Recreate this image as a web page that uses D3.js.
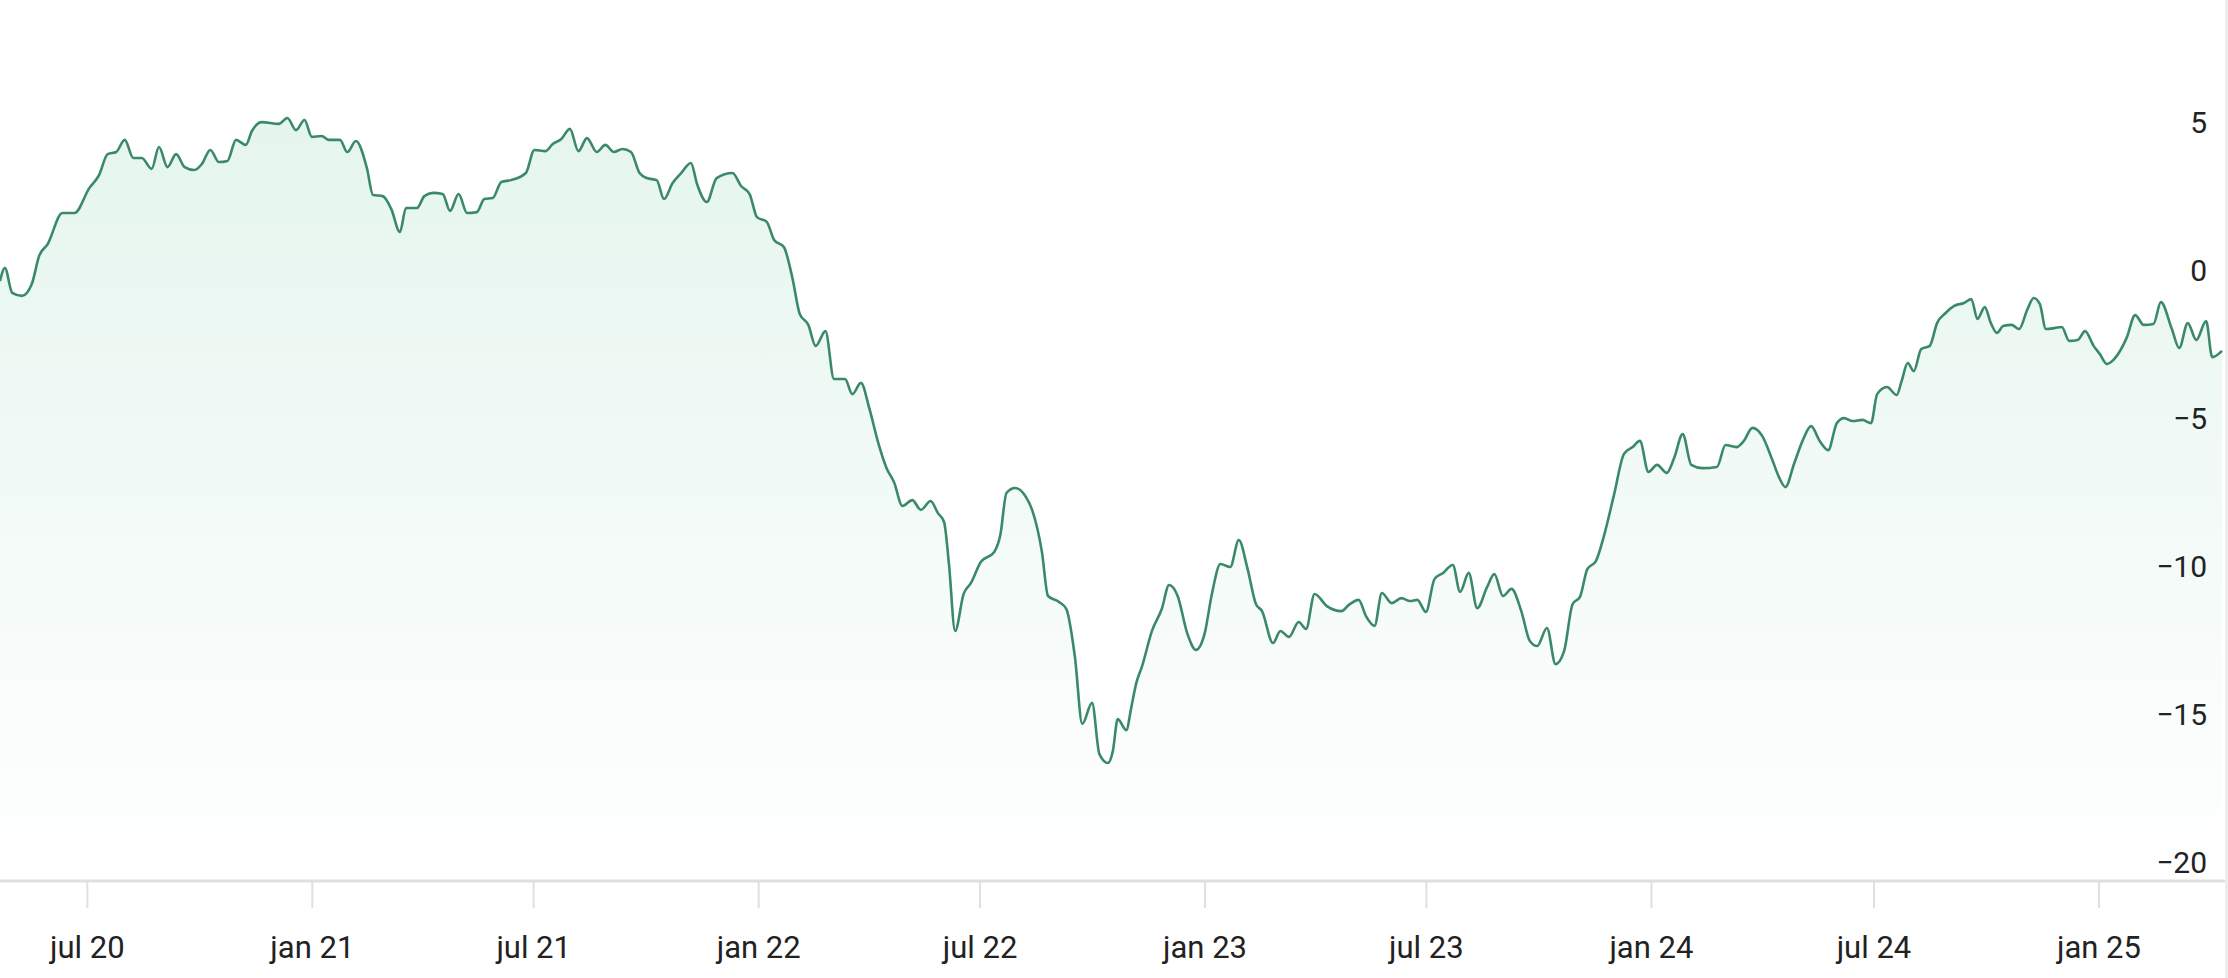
<!DOCTYPE html>
<html>
<head>
<meta charset="utf-8">
<script src="https://cdn.jsdelivr.net/npm/d3@7"></script>
<style>
  body { margin: 0; background: #fff; }
  svg { display: block; font-family: Roboto, "Noto Sans", sans-serif; }
</style>
</head>
<body>
<div id="chart"></div>
<script>
// data
var dates = [
  "2020-04-21","2020-04-25","2020-05-01","2020-05-09","2020-05-17","2020-05-23","2020-05-30","2020-06-11","2020-06-21","2020-07-03",
  "2020-07-11","2020-07-18","2020-07-25","2020-08-01","2020-08-08","2020-08-15","2020-08-23","2020-08-29","2020-09-05","2020-09-12",
  "2020-09-19","2020-09-27","2020-10-03","2020-10-10","2020-10-17","2020-10-24","2020-10-31","2020-11-08","2020-11-13","2020-11-21",
  "2020-12-05","2020-12-12","2020-12-19","2020-12-26","2021-01-01","2021-01-09","2021-01-15","2021-01-24","2021-01-30","2021-02-06",
  "2021-02-15","2021-02-20","2021-02-28","2021-03-07","2021-03-14","2021-03-19","2021-03-28","2021-04-03","2021-04-10","2021-04-18",
  "2021-04-24","2021-05-01","2021-05-08","2021-05-16","2021-05-22","2021-05-29","2021-06-05","2021-06-13","2021-06-25","2021-07-02",
  "2021-07-11","2021-07-17","2021-07-24","2021-07-31","2021-08-07","2021-08-14","2021-08-22","2021-08-29","2021-09-05","2021-09-12",
  "2021-09-19","2021-09-26","2021-10-02","2021-10-10","2021-10-16","2021-10-23","2021-10-30","2021-11-07","2021-11-12","2021-11-20",
  "2021-11-28","2021-12-11","2021-12-18","2021-12-25","2021-12-31","2022-01-08","2022-01-14","2022-01-22","2022-01-29","2022-02-04",
  "2022-02-11","2022-02-17","2022-02-25","2022-03-04","2022-03-13","2022-03-19","2022-03-26","2022-04-02","2022-04-09","2022-04-16",
  "2022-04-22","2022-04-29","2022-05-07","2022-05-14","2022-05-22","2022-05-28","2022-06-02","2022-06-06","2022-06-11","2022-06-18",
  "2022-06-24","2022-07-02","2022-07-13","2022-07-18","2022-07-23","2022-07-30","2022-08-08","2022-08-13","2022-08-21","2022-08-26",
  "2022-09-04","2022-09-10","2022-09-17","2022-09-23","2022-10-01","2022-10-07","2022-10-14","2022-10-18","2022-10-22","2022-10-29",
  "2022-11-02","2022-11-06","2022-11-11","2022-11-19","2022-11-27","2022-12-03","2022-12-10","2022-12-18","2022-12-25","2023-01-01",
  "2023-01-07","2023-01-14","2023-01-22","2023-01-29","2023-02-05","2023-02-12","2023-02-17","2023-02-26","2023-03-04","2023-03-11",
  "2023-03-19","2023-03-25","2023-04-01","2023-04-11","2023-04-23","2023-04-29","2023-05-07","2023-05-13","2023-05-20","2023-05-26",
  "2023-06-03","2023-06-11","2023-06-18","2023-06-24","2023-07-01","2023-07-08","2023-07-15","2023-07-23","2023-07-29","2023-08-05",
  "2023-08-12","2023-08-20","2023-08-26","2023-09-02","2023-09-09","2023-09-17","2023-09-24","2023-09-30","2023-10-08","2023-10-15",
  "2023-10-22","2023-10-29","2023-11-04","2023-11-10","2023-11-17","2023-11-24","2023-12-02","2023-12-10","2023-12-17","2023-12-23",
  "2023-12-30","2024-01-06","2024-01-14","2024-01-20","2024-01-27","2024-02-03","2024-02-12","2024-02-24","2024-03-02","2024-03-11",
  "2024-03-17","2024-03-24","2024-04-01","2024-04-09","2024-04-15","2024-04-20","2024-04-27","2024-05-04","2024-05-11","2024-05-18",
  "2024-05-25","2024-06-01","2024-06-07","2024-06-14","2024-06-22","2024-06-29","2024-07-04","2024-07-12","2024-07-20","2024-07-24",
  "2024-07-29","2024-08-03","2024-08-09","2024-08-16","2024-08-22","2024-08-29","2024-09-05","2024-09-13","2024-09-19","2024-09-24",
  "2024-09-30","2024-10-05","2024-10-10","2024-10-15","2024-10-22","2024-10-28","2024-11-04","2024-11-09","2024-11-14","2024-11-19",
  "2024-11-26","2024-12-02","2024-12-08","2024-12-15","2024-12-21","2024-12-28","2025-01-02","2025-01-08","2025-01-14","2025-01-24",
  "2025-01-31","2025-02-07","2025-02-15","2025-02-21","2025-03-02","2025-03-08","2025-03-15","2025-03-22","2025-03-30","2025-04-04",
  "2025-04-12"
];
var values = [
  -0.34,0.10,-0.74,-0.84,-0.44,0.51,0.91,1.96,1.96,2.80,
  3.24,3.95,4.02,4.43,3.82,3.82,3.45,4.19,3.51,3.95,
  3.51,3.41,3.61,4.09,3.68,3.72,4.43,4.26,4.73,5.03,
  4.97,5.17,4.76,5.10,4.53,4.56,4.43,4.43,4.02,4.39,
  3.48,2.57,2.53,2.09,1.32,2.13,2.13,2.53,2.64,2.60,
  2.03,2.60,1.96,1.99,2.43,2.47,3.01,3.07,3.31,4.09,
  4.05,4.29,4.46,4.80,4.05,4.49,4.02,4.26,4.02,4.12,
  4.02,3.31,3.14,3.07,2.43,2.97,3.31,3.65,2.94,2.33,
  3.14,3.31,2.87,2.60,1.82,1.66,1.05,0.81,-0.24,-1.45,
  -1.82,-2.53,-2.03,-3.65,-3.65,-4.16,-3.78,-4.66,-5.78,-6.66,
  -7.13,-7.94,-7.74,-8.07,-7.77,-8.18,-8.48,-9.90,-12.16,-10.91,
  -10.54,-9.83,-9.49,-8.92,-7.50,-7.33,-7.64,-8.07,-9.49,-10.98,
  -11.18,-11.42,-13.04,-15.30,-14.59,-16.32,-16.62,-16.22,-15.14,-15.51,
  -14.76,-13.95,-13.34,-12.16,-11.42,-10.61,-10.98,-12.26,-12.80,-12.26,
  -10.91,-9.90,-10.00,-9.09,-10.03,-11.25,-11.49,-12.57,-12.16,-12.36,
  -11.86,-12.09,-10.91,-11.32,-11.49,-11.28,-11.11,-11.66,-11.99,-10.88,
  -11.22,-11.05,-11.15,-11.11,-11.52,-10.41,-10.20,-9.93,-10.84,-10.20,
  -11.39,-10.68,-10.24,-10.98,-10.74,-11.49,-12.50,-12.67,-12.06,-13.28,
  -12.84,-11.25,-11.01,-10.07,-9.80,-8.89,-7.53,-6.18,-5.95,-5.74,
  -6.79,-6.55,-6.82,-6.32,-5.51,-6.55,-6.66,-6.62,-5.88,-5.95,
  -5.74,-5.30,-5.57,-6.35,-6.99,-7.30,-6.52,-5.74,-5.24,-5.74,
  -6.05,-5.14,-4.97,-5.07,-5.03,-5.14,-4.16,-3.92,-4.19,-3.72,
  -3.11,-3.38,-2.64,-2.53,-1.76,-1.42,-1.18,-1.08,-0.95,-1.62,
  -1.22,-1.76,-2.09,-1.86,-1.82,-1.96,-1.28,-0.91,-1.11,-1.96,
  -1.93,-1.89,-2.36,-2.33,-2.03,-2.53,-2.80,-3.14,-2.97,-2.26,
  -1.49,-1.82,-1.79,-1.05,-1.96,-2.60,-1.76,-2.33,-1.69,-2.91,
  -2.70
];
var xTickDates = ["2020-07-01","2021-01-01","2021-07-01","2022-01-01","2022-07-01","2023-01-01","2023-07-01","2024-01-01","2024-07-01","2025-01-01"];
var xTickLabels = ["jul 20","jan 21","jul 21","jan 22","jul 22","jan 23","jul 23","jan 24","jul 24","jan 25"];
var yTicks = [5, 0, -5, -10, -15, -20];

var w = 2228, h = 978;
var axisY = 881;
var parse = d3.utcParse("%Y-%m-%d");

var points = dates.map(function(d, i) {
  return { date: parse(d), value: values[i] };
});

var x = d3.scaleUtc()
  .domain(d3.extent(points, function(d) { return d.date; }))
  .range([0, 2222]);

var y = d3.scaleLinear()
  .domain([-20, 5])
  .range([863, 123]);

var svg = d3.select("#chart")
  .append("svg")
  .attr("width", w)
  .attr("height", h);

// soft green fill fading to white
var grad = svg.append("defs").append("linearGradient")
  .attr("id", "fade")
  .attr("gradientUnits", "userSpaceOnUse")
  .attr("x1", 0).attr("x2", 0)
  .attr("y1", 110).attr("y2", axisY);
grad.append("stop").attr("offset", 0).attr("stop-color", "#e5f5ee");
grad.append("stop").attr("offset", 1).attr("stop-color", "#ffffff");

var area = d3.area()
  .x(function(d) { return x(d.date); })
  .y0(axisY)
  .y1(function(d) { return y(d.value); })
  .curve(d3.curveMonotoneX);

var line = d3.line()
  .x(function(d) { return x(d.date); })
  .y(function(d) { return y(d.value); })
  .curve(d3.curveMonotoneX);

svg.append("path")
  .datum(points)
  .attr("d", area)
  .attr("fill", "url(#fade)");

svg.append("path")
  .datum(points)
  .attr("d", line)
  .attr("fill", "none")
  .attr("stroke", "#3a8a68")
  .attr("stroke-width", 2.6)
  .attr("stroke-linejoin", "round");

// x axis
var xAxis = d3.axisBottom(x)
  .tickValues(xTickDates.map(parse))
  .tickFormat(function(d, i) { return xTickLabels[i]; })
  .tickSize(27)
  .tickSizeOuter(0);

var gx = svg.append("g")
  .attr("transform", "translate(0," + axisY + ")")
  .call(xAxis);
gx.select(".domain").remove();
gx.selectAll(".tick line").attr("stroke", "#e0e0e0").attr("stroke-width", 2);
gx.selectAll(".tick text")
  .attr("y", 77)
  .attr("dy", null)
  .attr("fill", "#222")
  .style("font-size", "31px")
  .style("font-family", "Roboto, sans-serif");

svg.append("line")
  .attr("x1", 0).attr("x2", 2225)
  .attr("y1", axisY).attr("y2", axisY)
  .attr("stroke", "#e0e0e0")
  .attr("stroke-width", 3);

// y axis labels on the right
var yAxis = d3.axisRight(y)
  .tickValues(yTicks)
  .tickSize(0)
  .tickPadding(0);

var gy = svg.append("g")
  .attr("transform", "translate(2207,0)")
  .call(yAxis);
gy.select(".domain").remove();
gy.selectAll(".tick text")
  .attr("text-anchor", "end")
  .attr("fill", "#222")
  .style("font-size", "30px")
  .style("font-family", "Roboto, sans-serif");

// right border of the panel
svg.append("line")
  .attr("x1", 2226.5).attr("x2", 2226.5)
  .attr("y1", 0).attr("y2", h)
  .attr("stroke", "#e6e6e6")
  .attr("stroke-width", 2);
</script>
</body>
</html>
